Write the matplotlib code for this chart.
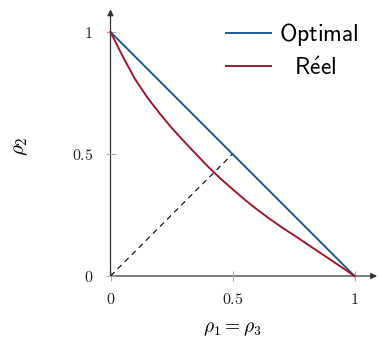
import matplotlib
matplotlib.use("Agg")
import matplotlib.pyplot as plt

plt.rcParams['mathtext.fontset'] = 'cm'

# Data
x_opt = [0.0, 1.0]
y_opt = [1.0, 0.0]
x_reel = [0.0, 0.05, 0.1, 0.15, 0.2, 0.25, 0.3, 0.35, 0.4, 0.45, 0.5,
          0.55, 0.6, 0.65, 0.7, 0.75, 0.8, 0.85, 0.9, 0.95, 1.0]
y_reel = [1.0, 0.90, 0.808, 0.733, 0.668, 0.608, 0.553, 0.50, 0.448, 0.40, 0.356,
          0.313, 0.273, 0.236, 0.201, 0.168, 0.135, 0.101, 0.068, 0.034, 0.0]
x_diag = [0.0, 0.5]
y_diag = [0.0, 0.5]
ticks = [0, 0.5, 1]
tick_labels = ['$0$', '$0.5$', '$1$']
labels = ['Optimal', 'Réel']

W, H = 378, 342
fig = plt.figure(figsize=(W / 100, H / 100), dpi=100)
x0, y0, unit = 110.5, 276.0, 244.0
lim = 1.1
ax = fig.add_axes([x0 / W, (H - y0) / H, lim * unit / W, lim * unit / H])
ax.set_xlim(0, lim)
ax.set_ylim(0, lim)
for s in ax.spines.values():
    s.set_visible(False)

blue = '#1f5a96'
red = '#a0182e'
ax.plot(x_diag, y_diag, color='black', lw=0.8, dashes=(5, 4), zorder=2)
l1, = ax.plot(x_opt, y_opt, color=blue, lw=1.4, zorder=3, clip_on=False)
l2, = ax.plot(x_reel, y_reel, color=red, lw=1.4, zorder=3, clip_on=False,
              solid_joinstyle='round')

# axes with arrows
for end in [(1.093, 0), (0, 1.093)]:
    ax.annotate('', xy=end, xytext=(0, 0), xycoords='data',
                arrowprops=dict(arrowstyle='-|>', color='#333333', lw=0.9,
                                mutation_scale=9, shrinkA=0, shrinkB=0),
                annotation_clip=False, zorder=1)

ax.set_xticks(ticks)
ax.set_xticklabels(tick_labels)
ax.set_yticks(ticks)
ax.set_yticklabels(tick_labels)
ax.tick_params(direction='inout', length=7, width=0.8, color='#aaaaaa',
               labelsize=11.5, labelcolor='#222222')
ax.tick_params(axis='x', pad=8)
ax.tick_params(axis='y', pad=9)

ax.set_xlabel(r'$\rho_1 = \rho_3$', fontsize=14, labelpad=8)
ax.xaxis.set_label_coords(0.5 / lim, -0.16)
ax.set_ylabel(r'$\rho_2$', fontsize=15)
ax.yaxis.set_label_coords(-0.30, (276 - 146.5) / (lim * unit))

def sf(s):
    return r'$\mathsf{' + s.replace('é', r'\acute{e}') + '}$'

leg = ax.legend([l1, l2], [sf(labels[0]), '  ' + sf(labels[1])],
                loc='upper right', bbox_to_anchor=(359 / W, 1 - 21 / H),
                bbox_transform=fig.transFigure, borderpad=0, borderaxespad=0,
                frameon=False, handlelength=1.9, handletextpad=0.35,
                labelspacing=0.38,
                prop={'family': ['cmss10', 'DejaVu Sans'], 'size': 17})

fig.savefig('out.png', dpi=100)
